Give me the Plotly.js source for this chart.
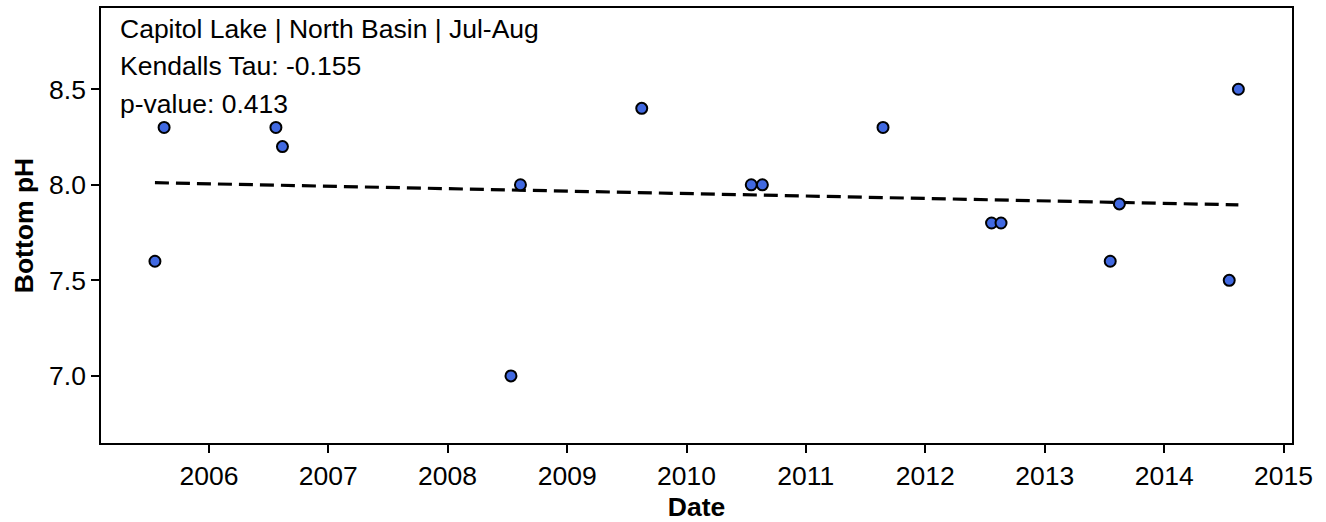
<!DOCTYPE html>
<html>
<head>
<meta charset="utf-8">
<script src="https://cdn.plot.ly/plotly-3.0.1.min.js"></script>
<style>html,body{margin:0;padding:0;background:#fff;}#chart{width:1326px;height:522px;}</style>
</head>
<body>
<div id="chart"></div>
<script>
const dates = ["2005-07-20","2005-08-17","2006-07-25","2006-08-14","2008-07-13","2008-08-11","2009-08-17","2010-07-18","2010-08-21","2011-08-25","2012-07-22","2012-08-20","2013-07-20","2013-08-17","2014-07-19","2014-08-16"];
const ph = [7.6,8.3,8.3,8.2,7.0,8.0,8.4,8.0,8.0,8.3,7.8,7.8,7.6,7.9,7.5,8.5];
const trendDates = ["2005-07-20","2014-08-16"];
const trendValues = [8.011,7.895];
const infoLines = ["Capitol Lake | North Basin | Jul-Aug","Kendalls Tau: -0.155","p-value: 0.413"];
const xRange = ["2005-02-05","2015-01-27"];
const yRange = [6.649,8.925];
const yTicks = [7.0,7.5,8.0,8.5];
const yTickText = ["7.0","7.5","8.0","8.5"];

const font = "Liberation Sans, Arial, Helvetica, sans-serif";
const fs = 26.5;

const traces = [
  {x: trendDates, y: trendValues, mode: "lines", type: "scatter",
   line: {color: "black", width: 3.2, dash: "14px,7px"}, hoverinfo: "skip"},
  {x: dates, y: ph, mode: "markers", type: "scatter",
   marker: {color: "#4169E1", size: 11, line: {color: "black", width: 2}}}
];
const ys = [0.952, 0.866, 0.779];
const layout = {
  width: 1326, height: 522,
  margin: {l: 101, r: 34, t: 8, b: 79},
  showlegend: false,
  paper_bgcolor: "white", plot_bgcolor: "white",
  font: {family: font, size: fs, color: "black"},
  xaxis: {type: "date", range: xRange, showgrid: false, zeroline: false,
    showline: true, mirror: true, linecolor: "black", linewidth: 1.5,
    ticks: "outside", ticklen: 8, tickwidth: 1.5, tickcolor: "black",
    dtick: "M12", tickformat: "%Y", tickfont: {size: fs},
    title: {text: "<b>Date</b>", font: {size: fs}, standoff: 8}},
  yaxis: {range: yRange, showgrid: false, zeroline: false,
    showline: true, mirror: true, linecolor: "black", linewidth: 1.5,
    ticks: "outside", ticklen: 8, tickwidth: 1.5, tickcolor: "black",
    tickvals: yTicks, ticktext: yTickText, tickfont: {size: fs},
    title: {text: "<b>Bottom pH</b>", font: {size: fs}, standoff: 8}},
  annotations: infoLines.map((t, i) => ({
    text: t, xref: "paper", yref: "paper", x: 0.0143, y: ys[i],
    xanchor: "left", yanchor: "middle", showarrow: false,
    font: {family: font, size: fs, color: "black"}
  }))
};
Plotly.newPlot("chart", traces, layout, {displayModeBar: false});
</script>
</body>
</html>
